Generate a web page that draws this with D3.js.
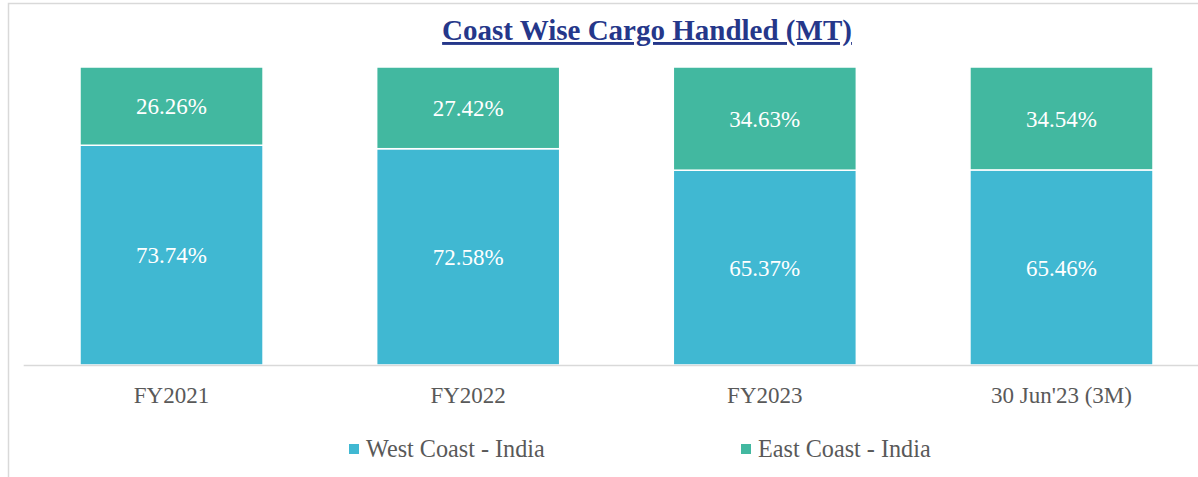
<!DOCTYPE html>
<html>
<head>
<meta charset="utf-8">
<script src="https://cdn.jsdelivr.net/npm/d3@7"></script>
<style>
  html, body { margin: 0; padding: 0; background: #fff; }
  svg { display: block; font-family: "Liberation Serif", "Times New Roman", serif; }
</style>
</head>
<body>
<svg id="chart" width="1198" height="477"></svg>
<script>
// Share of coast-wise cargo handled, by period (percent of total)
const categories = ["FY2021", "FY2022", "FY2023", "30 Jun'23 (3M)"];
const westCoast = [73.74, 72.58, 65.37, 65.46];
const eastCoast = [26.26, 27.42, 34.63, 34.54];
const seriesNames = ["West Coast - India", "East Coast - India"];
const seriesColors = ["#40b8d2", "#42b8a0"];

const W = 1198, H = 477;
const svg = d3.select("#chart");

// Outer chart frame
svg.append("rect")
  .attr("x", 8.5).attr("y", 3.5)
  .attr("width", W + 20).attr("height", H + 20)
  .attr("fill", "none").attr("stroke", "#d9d9d9").attr("stroke-width", 1.5);

const plotTop = 67, plotBottom = 365;

const x = d3.scaleBand()
  .domain(categories)
  .range([23.2, 1209.8])
  .paddingInner(0.383)
  .paddingOuter(0.1915);

const y = d3.scaleLinear().domain([0, 100]).range([plotBottom, plotTop]);

const rows = categories.map((c, i) => ({ cat: c, west: westCoast[i], east: eastCoast[i] }));
const stacked = d3.stack().keys(["west", "east"])(rows);

// Bars
const layers = svg.append("g").selectAll("g")
  .data(stacked)
  .join("g")
  .attr("fill", (d, i) => seriesColors[i]);

layers.selectAll("rect")
  .data(d => d)
  .join("rect")
  .attr("x", d => x(d.data.cat))
  .attr("width", x.bandwidth())
  .attr("y", d => y(d[1]))
  .attr("height", d => y(d[0]) - y(d[1]))
  .attr("stroke", "#ffffff")
  .attr("stroke-width", 1.5);

// Value labels inside each segment
layers.selectAll("text")
  .data(d => d.map(v => ({ v, key: d.key })))
  .join("text")
  .attr("x", d => x(d.v.data.cat) + x.bandwidth() / 2)
  .attr("y", d => (y(d.v[0]) + y(d.v[1])) / 2)
  .attr("dy", "0.35em")
  .attr("text-anchor", "middle")
  .attr("fill", "#ffffff")
  .attr("font-size", 23)
  .text(d => d.v.data[d.key].toFixed(2) + "%");

// Category axis
const axis = svg.append("g")
  .attr("transform", `translate(0,${plotBottom})`)
  .call(d3.axisBottom(x).tickSize(0).tickPadding(22));
axis.select(".domain").attr("stroke", "#d9d9d9").attr("stroke-width", 1.5);
axis.selectAll("text")
  .attr("fill", "#595959")
  .attr("font-size", 23)
  .attr("font-family", "Liberation Serif, Times New Roman, serif");

// Title
svg.append("text")
  .attr("x", 647).attr("y", 40)
  .attr("text-anchor", "middle")
  .attr("font-size", 29)
  .attr("font-weight", "bold")
  .attr("fill", "#25378a")
  .attr("text-decoration", "underline")
  .text("Coast Wise Cargo Handled (MT)");

// Legend
const legendX = [349, 741];
const legend = svg.append("g").selectAll("g")
  .data(seriesNames)
  .join("g")
  .attr("transform", (d, i) => `translate(${legendX[i]},444)`);
legend.append("rect")
  .attr("width", 10).attr("height", 10)
  .attr("fill", (d, i) => seriesColors[i]);
legend.append("text")
  .attr("x", 17).attr("y", 13)
  .attr("font-size", 24.2)
  .attr("fill", "#595959")
  .text(d => d);
</script>
</body>
</html>
